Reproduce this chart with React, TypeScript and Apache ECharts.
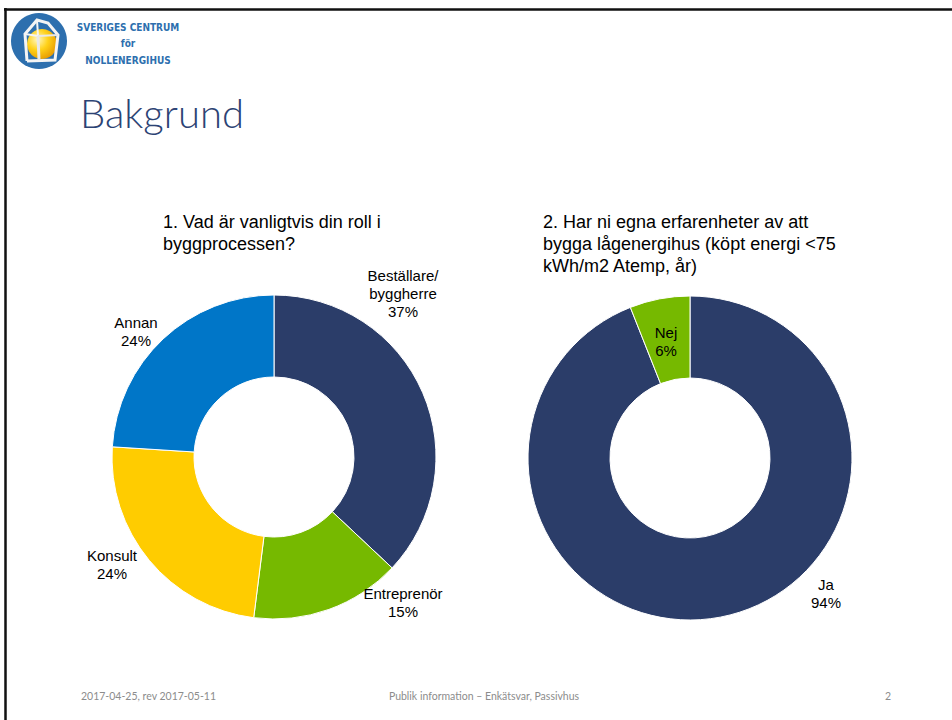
import React, { useEffect, useRef } from "react";
import * as echarts from "echarts";

// ---- data ----
const roleNames = ["Beställare/\nbyggherre", "Entreprenör", "Konsult", "Annan"];
const roleValues = [37, 15, 24, 24];
const expNames = ["Ja", "Nej"];
const expValues = [94, 6];

const titleMain = "Bakgrund";
const q1Title = "1. Vad är vanligtvis din roll i\nbyggprocessen?";
const q2Title = "2. Har ni egna erfarenheter av att\nbygga lågenergihus (köpt energi <75\nkWh/m2 Atemp, år)";
const footerLeft = "2017-04-25, rev 2017-05-11";
const footerMid = "Publik information – Enkätsvar, Passivhus";
const footerRight = "2";
const logoLines = ["SVERIGES CENTRUM", "för", "NOLLENERGIHUS"];

// ---- layout / styles ----
const roleColors = ["#2b3d69", "#76b900", "#ffcc00", "#0076c8"];
const expColors = ["#2b3d69", "#76b900"];
const roleLabelPos = [
  [403, 293],
  [403, 602],
  [112, 564],
  [136, 331],
];
const expLabelPos = [
  [826, 593],
  [666, 341],
];

export default function App() {
  const ref = useRef<HTMLDivElement>(null);
  useEffect(() => {
    if (!ref.current) return;
    const chart = echarts.init(ref.current, null, { renderer: "svg" });
    const labelStyle = {
      show: true,
      formatter: "{b}\n{c}%",
      fontSize: 15,
      lineHeight: 18,
      color: "#000",
      fontFamily: "Liberation Sans, Arial, sans-serif",
      align: "center",
    };
    const logoFont = "bold 10px 'DejaVu Sans Condensed', 'DejaVu Sans', sans-serif";
    chart.setOption({
      animation: false,
      backgroundColor: "#fff",
      title: [
        {
          text: titleMain,
          left: 80,
          top: 93,
          padding: 0,
          textStyle: {
            fontFamily: "Lato",
            fontWeight: 300,
            fontSize: 40,
            color: "#2c4374",
          },
        },
        {
          text: q1Title,
          left: 163,
          top: 211,
          padding: 0,
          textStyle: {
            fontFamily: "Liberation Sans, Arial, sans-serif",
            fontWeight: "normal",
            fontSize: 18,
            lineHeight: 22,
            color: "#000",
          },
        },
        {
          text: q2Title,
          left: 543,
          top: 211,
          padding: 0,
          textStyle: {
            fontFamily: "Liberation Sans, Arial, sans-serif",
            fontWeight: "normal",
            fontSize: 18,
            lineHeight: 22,
            color: "#000",
          },
        },
      ],
      series: [
        {
          type: "pie",
          center: [274, 457],
          radius: [80, 162],
          startAngle: 90,
          clockwise: true,
          silent: true,
          itemStyle: { borderColor: "#fff", borderWidth: 1 },
          label: labelStyle,
          labelLine: { show: false },
          labelLayout: (p: any) => ({
            x: roleLabelPos[p.dataIndex][0],
            y: roleLabelPos[p.dataIndex][1],
            align: "center",
            verticalAlign: "middle",
          }),
          data: roleValues.map((v, i) => ({
            value: v,
            name: roleNames[i],
            itemStyle: { color: roleColors[i] },
          })),
        },
        {
          type: "pie",
          center: [690, 458],
          radius: [80, 162],
          startAngle: 90,
          clockwise: true,
          silent: true,
          itemStyle: { borderColor: "#fff", borderWidth: 1 },
          label: labelStyle,
          labelLine: { show: false },
          labelLayout: (p: any) => ({
            x: expLabelPos[p.dataIndex][0],
            y: expLabelPos[p.dataIndex][1],
            align: "center",
            verticalAlign: "middle",
          }),
          data: expValues.map((v, i) => ({
            value: v,
            name: expNames[i],
            itemStyle: { color: expColors[i] },
          })),
        },
      ],
      graphic: [
        // slide frame
        { type: "line", shape: { x1: 4, y1: 9.5, x2: 952, y2: 9.5 }, style: { stroke: "#111", lineWidth: 2.5 } },
        { type: "line", shape: { x1: 5.5, y1: 8, x2: 5.5, y2: 720 }, style: { stroke: "#111", lineWidth: 2.5 } },
        // logo
        { type: "circle", shape: { cx: 39, cy: 41, r: 28 }, style: { fill: "#2d6fae" } },
        {
          type: "circle",
          shape: { cx: 42, cy: 44, r: 15 },
          style: {
            fill: new echarts.graphic.RadialGradient(0.35, 0.35, 0.7, [
              { offset: 0, color: "#fff7c0" },
              { offset: 0.5, color: "#ffd21a" },
              { offset: 1, color: "#e79b00" },
            ]),
          },
        },
        {
          type: "polyline",
          shape: { points: [[27, 61], [25, 34], [37, 20], [48, 23], [58, 35], [55, 60], [27, 61]] },
          style: { stroke: "#f4f4f4", lineWidth: 3, fill: "none" },
        },
        {
          type: "polyline",
          shape: { points: [[25, 34], [38, 36], [37, 20]] },
          style: { stroke: "#f4f4f4", lineWidth: 2, fill: "none" },
        },
        {
          type: "polyline",
          shape: { points: [[38, 36], [58, 35]] },
          style: { stroke: "#e8e8e8", lineWidth: 2, fill: "none" },
        },
        {
          type: "polyline",
          shape: { points: [[38, 36], [39, 60]] },
          style: { stroke: "#e8e8e8", lineWidth: 3, fill: "none" },
        },
        {
          type: "text",
          x: 128,
          y: 27,
          style: { text: logoLines[0], fill: "#2d6fae", font: logoFont, align: "center", verticalAlign: "middle" },
        },
        {
          type: "text",
          x: 128,
          y: 43,
          style: { text: logoLines[1], fill: "#2d6fae", font: logoFont, align: "center", verticalAlign: "middle" },
        },
        {
          type: "text",
          x: 128,
          y: 60,
          style: { text: logoLines[2], fill: "#2d6fae", font: logoFont, align: "center", verticalAlign: "middle" },
        },
        // footer
        {
          type: "text",
          x: 81,
          y: 696,
          style: { text: footerLeft, fill: "#8c8c8c", font: "10.5px Lato, sans-serif", verticalAlign: "middle" },
        },
        {
          type: "text",
          x: 484,
          y: 696,
          style: {
            text: footerMid,
            fill: "#8c8c8c",
            font: "10.5px Lato, sans-serif",
            align: "center",
            verticalAlign: "middle",
          },
        },
        {
          type: "text",
          x: 888,
          y: 696,
          style: {
            text: footerRight,
            fill: "#8c8c8c",
            font: "10.5px Lato, sans-serif",
            align: "center",
            verticalAlign: "middle",
          },
        },
      ],
    });
    return () => chart.dispose();
  }, []);
  return (
    <div
      ref={ref}
      style={{ position: "absolute", left: 0, top: 0, width: 952, height: 720 }}
    />
  );
}
